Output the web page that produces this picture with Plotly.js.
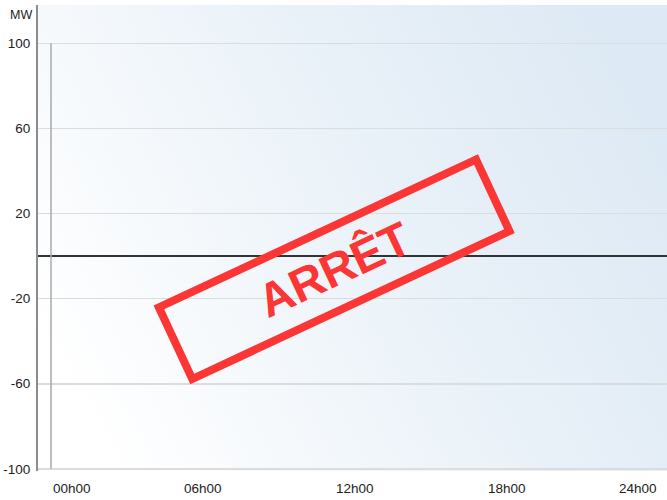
<!DOCTYPE html>
<html>
<head>
<meta charset="utf-8">
<script src="https://cdn.plot.ly/plotly-3.0.1.min.js"></script>
<style>
html,body{margin:0;padding:0;background:#fff;}
#chart{width:667px;height:500px;}
</style>
</head>
<body>
<div id="chart"></div>
<script>
// Data
var hours = [0, 6, 12, 18, 24];
var hourLabels = ['00h00', '06h00', '12h00', '18h00', '24h00'];
var yTicks = [100, 60, 20, -20, -60, -100];
var yTickLabels = ['100', '60', '20', '-20', '-60', '-100'];
var unitLabel = 'MW';
var stampText = 'ARRÊT';

var font = 'Liberation Sans, Arial, sans-serif';

var gradSvg = '<svg xmlns="http://www.w3.org/2000/svg" width="629" height="466" preserveAspectRatio="none">' +
  '<defs><linearGradient id="g" x1="0" y1="0.7" x2="1" y2="0.3">' +
  '<stop offset="0" stop-color="#ffffff"/>' +
  '<stop offset="0.5" stop-color="#ecf3f9"/>' +
  '<stop offset="1" stop-color="#dde9f4"/>' +
  '</linearGradient></defs><rect width="629" height="466" fill="url(#g)"/></svg>';

var traces = [{
  type: 'scatter', mode: 'lines',
  x: [hours[0], hours[0]], y: [yTicks[yTicks.length - 1], yTicks[0]],
  line: {color: '#a8a8a8', width: 1.5},
  hoverinfo: 'skip', showlegend: false
}];

var annotations = [];
hours.forEach(function (h, i) {
  annotations.push({
    x: h, xref: 'x', y: -0.038, yref: 'paper',
    text: hourLabels[i], showarrow: false,
    xanchor: i === 0 ? 'left' : (i === hours.length - 1 ? 'right' : 'center'),
    yanchor: 'middle',
    font: {family: font, size: 13.5, color: '#222'}
  });
});
annotations.push({
  x: -4 / 629, xref: 'paper', y: 0.9775, yref: 'paper',
  text: unitLabel, showarrow: false, xanchor: 'right', yanchor: 'middle',
  font: {family: font, size: 12.5, color: '#222'}
});
annotations.push({
  x: (333.5 - 38) / 629, xref: 'paper', y: (471 - 269) / 466, yref: 'paper',
  text: '<b>' + stampText + '</b>', showarrow: false,
  xanchor: 'center', yanchor: 'middle',
  textangle: -25,
  width: 342, height: 71,
  borderwidth: 8, borderpad: 0,
  bordercolor: '#fc3535',
  font: {family: font, size: 47, color: '#fc3535'}
});

var layout = {
  width: 667, height: 500,
  margin: {l: 38, r: 0, t: 5, b: 29, pad: 0},
  paper_bgcolor: '#ffffff',
  plot_bgcolor: 'rgba(0,0,0,0)',
  showlegend: false,
  xaxis: {
    range: [-0.513, 24.316],
    showgrid: false, zeroline: false, showline: false,
    showticklabels: false, ticks: '',
    fixedrange: true
  },
  yaxis: {
    range: [-101, 118],
    tickvals: yTicks, ticktext: yTickLabels,
    showgrid: true, gridcolor: '#dcdcdc', gridwidth: 1.5,
    zeroline: true, zerolinecolor: '#333333', zerolinewidth: 2.5,
    showline: true, linecolor: '#8c8c8c', linewidth: 2,
    ticks: 'outside', ticklen: 3, tickcolor: 'rgba(0,0,0,0)',
    tickfont: {family: font, size: 13.5, color: '#222'},
    fixedrange: true
  },
  images: [{
    source: 'data:image/svg+xml;charset=utf-8,' + encodeURIComponent(gradSvg),
    xref: 'paper', yref: 'paper', x: 0, y: 1, sizex: 1, sizey: 1,
    sizing: 'stretch', xanchor: 'left', yanchor: 'top', layer: 'below'
  }],
  annotations: annotations
};

Plotly.newPlot('chart', traces, layout, {displayModeBar: false, staticPlot: true});
</script>
</body>
</html>
